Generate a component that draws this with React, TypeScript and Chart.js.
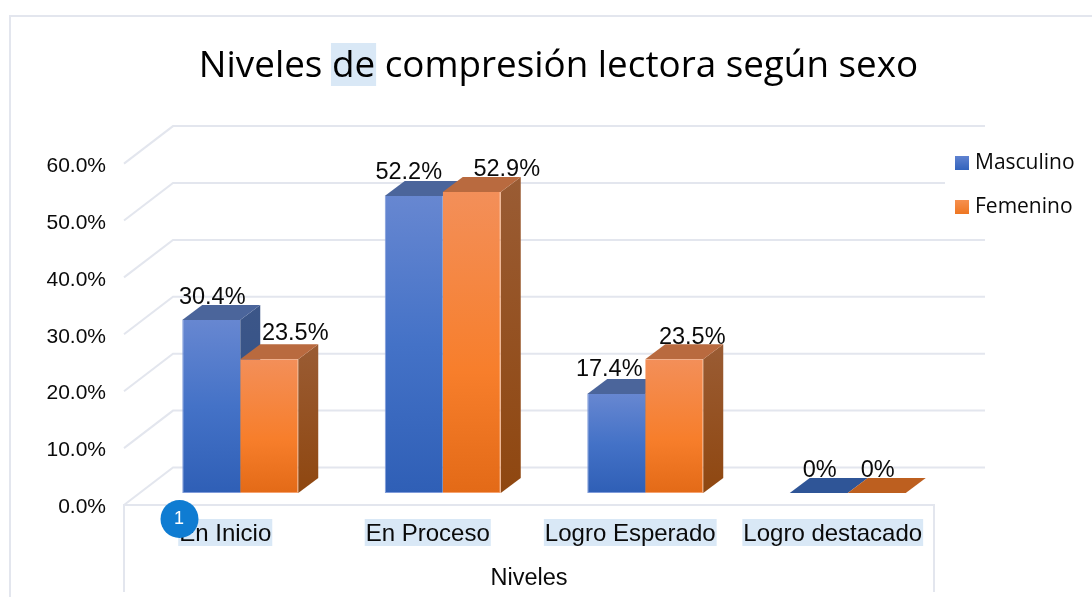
import React, { useEffect, useRef } from "react";
import { Chart, registerables } from "chart.js";

Chart.register(...registerables);

const categories = ["En Inicio", "En Proceso", "Logro Esperado", "Logro destacado"];
const masculino = [30.4, 52.2, 17.4, 0];
const femenino = [23.5, 52.9, 23.5, 0];
const masculinoLabels = ["30.4%", "52.2%", "17.4%", "0%"];
const femeninoLabels = ["23.5%", "52.9%", "23.5%", "0%"];
const titleText = "Niveles de compresión lectora según sexo";
const axisTitle = "Niveles";

// Label nudges, relative to each bar's centre and top.
const labelNudgeX = [[1, -5, -7, 1], [26, 35, 18, 1]];
const labelNudgeY = [[-24, -24, -25, -23], [-27, -23, -23, -23]];

const SANS = "'Liberation Sans', Arial, sans-serif";
const UI = "'Open Sans', 'Noto Sans', sans-serif";
const GRID = "#E3E6EE";
const HILITE = "#D9E8F6";
const INK = "#0A0A0A";
const FLOOR = { dx: 49, dy: -37.5 };
const BAR_SHIFT = { dx: 15, dy: -12 };
const BAR_DEPTH = { dx: 20, dy: -15 };

const palette = [
  {
    front: [[0, "#6787D1"], [0.5, "#4472C7"], [1, "#2F5FB6"]],
    border: "#7F9BDA",
    top: "#4B659B",
    topFlat: "#2F5597",
    side: ["#3C5688", "#2F5088"],
    legend: ["#5F82D0", "#3263BC"],
  },
  {
    front: [[0, "#F38F59"], [0.6, "#F77E2B"], [1, "#E36A17"]],
    border: "#F6A26F",
    top: "#B96A3F",
    topFlat: "#BD5F1F",
    side: ["#9A5C34", "#8F4710"],
    legend: ["#F6904F", "#EE7622"],
  },
];

function frontFill(idx: number) {
  return (c: any) => {
    const { chart, raw } = c;
    const yS = chart.scales?.y;
    if (!yS || raw === undefined) return palette[idx].front[1][1];
    const y0 = yS.getPixelForValue(raw);
    const y1 = yS.getPixelForValue(0);
    if (y1 - y0 < 1) return palette[idx].front[1][1];
    const g = chart.ctx.createLinearGradient(0, y0, 0, y1);
    palette[idx].front.forEach(([o, col]: any) => g.addColorStop(o, col));
    return g;
  };
}

function legendSwatch(idx: number) {
  const cv = document.createElement("canvas");
  cv.width = 14;
  cv.height = 14;
  const c = cv.getContext("2d") as CanvasRenderingContext2D;
  const g = c.createLinearGradient(0, 0, 0, 14);
  g.addColorStop(0, palette[idx].legend[0]);
  g.addColorStop(1, palette[idx].legend[1]);
  c.fillStyle = g;
  c.fillRect(0, 0, 14, 14);
  return cv;
}

function poly(ctx: CanvasRenderingContext2D, pts: number[][], fill: any) {
  ctx.fillStyle = fill;
  ctx.beginPath();
  pts.forEach(([x, y], i) => (i ? ctx.lineTo(x, y) : ctx.moveTo(x, y)));
  ctx.closePath();
  ctx.fill();
}

const scene = {
  id: "scene",
  beforeDraw(chart: any) {
    const { ctx, scales, chartArea, titleBlock } = chart;
    ctx.save();
    ctx.fillStyle = "#FFFFFF";
    ctx.fillRect(0, 0, chart.width, chart.height);
    ctx.strokeStyle = GRID;
    ctx.lineWidth = 2;
    ctx.beginPath();
    ctx.moveTo(10, 597);
    ctx.lineTo(10, 16);
    ctx.lineTo(1092, 16);
    ctx.stroke();

    // back wall and left wall grid
    scales.y.ticks.forEach((_t: any, i: number) => {
      const y = scales.y.getPixelForTick(i);
      ctx.beginPath();
      ctx.moveTo(chartArea.left, y);
      ctx.lineTo(chartArea.left + FLOOR.dx, y + FLOOR.dy);
      ctx.lineTo(chartArea.right + FLOOR.dx + 2, y + FLOOR.dy);
      ctx.stroke();
    });
    ctx.fillStyle = "#FFFFFF";
    ctx.fillRect(945, 146, 147, 74);

    // category table
    const y0 = scales.y.getPixelForValue(0);
    ctx.beginPath();
    ctx.moveTo(chartArea.left, 592);
    ctx.lineTo(chartArea.left, y0);
    ctx.lineTo(chartArea.right, y0);
    ctx.lineTo(chartArea.right, 592);
    ctx.stroke();

    // highlight of the word "de"
    const tf = chart.options.plugins.title.font;
    ctx.font = `${tf.size}px ${tf.family}`;
    const cx = (titleBlock.left + titleBlock.right) / 2;
    const tw = ctx.measureText(titleText).width;
    const before = ctx.measureText("Niveles ").width;
    const deW = ctx.measureText("de").width;
    ctx.fillStyle = HILITE;
    ctx.fillRect(cx - tw / 2 + before - 1, 43, deW + 2, 43);

    // highlight of the category labels
    const xf = scales.x.options.ticks.font;
    ctx.font = `${xf.size}px ${xf.family}`;
    categories.forEach((c, i) => {
      const w = ctx.measureText(c).width;
      ctx.fillRect(scales.x.getPixelForTick(i) - w / 2 - 1, 519, w + 2, 27);
    });
    ctx.restore();
  },
  beforeDatasetsDraw(chart: any) {
    const { ctx } = chart;
    ctx.save();
    ctx.translate(BAR_SHIFT.dx, BAR_SHIFT.dy);
    // side and top faces first, Masculino under Femenino; front faces follow from the library
    [0, 1].forEach((d) => {
      const p = palette[d];
      chart.getDatasetMeta(d).data.forEach((el: any) => {
        const { x, y, base, width } = el.getProps(["x", "y", "base", "width"], true);
        const l = x - width / 2;
        const r = x + width / 2;
        const { dx, dy } = BAR_DEPTH;
        const flat = base - y < 1;
        if (!flat) {
          const g = ctx.createLinearGradient(0, y + dy, 0, base);
          g.addColorStop(0, p.side[0]);
          g.addColorStop(1, p.side[1]);
          poly(ctx, [[r, y], [r + dx, y + dy], [r + dx, base + dy], [r, base]], g);
        }
        poly(ctx, [[l, y], [l + dx, y + dy], [r + dx, y + dy], [r, y]], flat ? p.topFlat : p.top);
      });
    });
  },
  afterDatasetsDraw(chart: any) {
    const { ctx } = chart;
    ctx.restore();
    ctx.save();
    ctx.font = `23.5px ${SANS}`;
    ctx.fillStyle = INK;
    ctx.textAlign = "center";
    ctx.textBaseline = "middle";
    [masculinoLabels, femeninoLabels].forEach((labels, d) => {
      const meta = chart.getDatasetMeta(d);
      labels.forEach((t, i) => {
        const el = meta.data[i];
        ctx.fillText(
          t,
          el.x + BAR_SHIFT.dx + labelNudgeX[d][i],
          el.y + BAR_SHIFT.dy + labelNudgeY[d][i] + 1
        );
      });
    });
    ctx.restore();
  },
  afterLayout(chart: any) {
    const lg = chart.legend;
    const pad = chart.options.plugins.legend.labels.padding;
    lg.left = 959.5 - pad;
    lg.right = 1092;
    lg.top = 152.5 - pad;
    lg.bottom = 300;
    // the title is centred on 558.5 in the reference
    const t = chart.titleBlock;
    const shift = 558.5 - (t.left + t.right) / 2;
    t.left += shift;
    t.right += shift;
  },
  afterDraw(chart: any) {
    const { ctx } = chart;
    ctx.save();
    ctx.fillStyle = "#0F7CD2";
    ctx.beginPath();
    ctx.arc(179.5, 519, 19, 0, Math.PI * 2);
    ctx.fill();
    ctx.fillStyle = "#FFFFFF";
    ctx.font = `18px ${SANS}`;
    ctx.textAlign = "center";
    ctx.textBaseline = "middle";
    ctx.fillText("1", 179, 519);
    ctx.restore();
  },
};

export default function App() {
  const ref = useRef<HTMLCanvasElement>(null);
  useEffect(() => {
    document.body.style.margin = "0";
    const canvas = ref.current as HTMLCanvasElement;
    const chart = new Chart(canvas, {
      type: "bar",
      plugins: [scene],
      data: {
        labels: categories,
        datasets: [
          {
            label: "Masculino",
            data: masculino,
            clip: false,
            backgroundColor: frontFill(0),
            borderColor: palette[0].border,
            borderSkipped: false,
            borderWidth: { left: 1, top: 0, right: 0, bottom: 1 },
          },
          {
            label: "Femenino",
            data: femenino,
            clip: false,
            backgroundColor: frontFill(1),
            borderColor: palette[1].border,
            borderSkipped: false,
            borderWidth: { left: 0, top: 0, right: 1, bottom: 1 },
          },
        ] as any,
      },
      options: {
        responsive: false,
        animation: false,
        events: [],
        layout: { padding: { left: 25, right: 158, top: 0, bottom: 0 } },
        datasets: { bar: { categoryPercentage: 0.5728, barPercentage: 1 } },
        plugins: {
          tooltip: { enabled: false },
          title: {
            display: true,
            text: titleText,
            color: "#000000",
            font: { family: UI, size: 36.8, weight: "normal", lineHeight: 1.2 },
            padding: { top: 44, bottom: 75.44 },
          },
          legend: {
            position: "chartArea",
            align: "start",
            labels: {
              usePointStyle: true,
              pointStyleWidth: 5,
              boxWidth: 14,
              boxHeight: 14,
              padding: 23,
              color: INK,
              font: { family: UI, size: 21 },
              generateLabels(chart: any) {
                return chart.data.datasets.map((d: any, i: number) => ({
                  text: d.label,
                  pointStyle: legendSwatch(i),
                  fillStyle: palette[i].legend[1],
                  strokeStyle: palette[i].legend[1],
                  lineWidth: 0,
                  datasetIndex: i,
                  fontColor: INK,
                }));
              },
            },
          } as any,
        },
        scales: {
          x: {
            grid: { display: false },
            border: { display: false },
            ticks: {
              autoSkip: false,
              maxRotation: 0,
              minRotation: 0,
              padding: 7,
              color: INK,
              font: { family: SANS, size: 24 },
            },
            title: {
              display: true,
              text: axisTitle,
              color: INK,
              font: { family: SANS, size: 23.5 },
              padding: { top: 0, bottom: 4 },
            },
            afterFit(s: any) {
              s.height = 92;
            },
          },
          y: {
            min: 0,
            max: 60,
            grid: { display: false },
            border: { display: false },
            ticks: {
              stepSize: 10,
              padding: 10,
              labelOffset: 2.5,
              color: INK,
              font: { family: SANS, size: 21 },
              callback: (v: any) => Number(v).toFixed(1) + "%",
            },
            afterFit(s: any) {
              s.width = 99;
            },
          },
        },
      } as any,
    });
    return () => chart.destroy();
  }, []);
  return (
    <div style={{ position: "absolute", left: 0, top: 0, width: 1092, height: 597, overflow: "hidden" }}>
      <canvas ref={ref} width={1092} height={597} style={{ display: "block" }} />
    </div>
  );
}
